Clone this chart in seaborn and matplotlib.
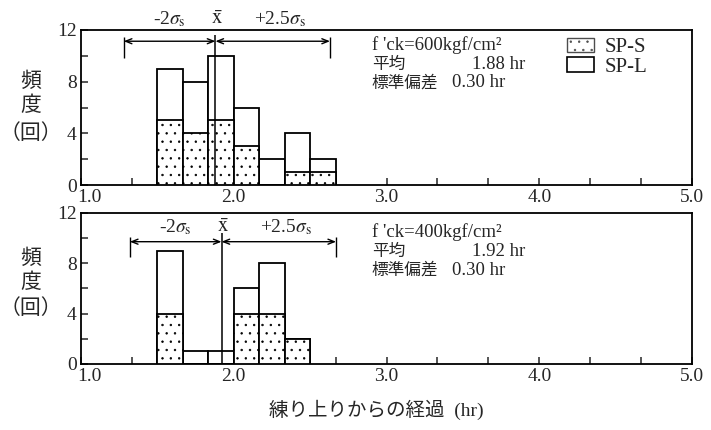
import matplotlib
matplotlib.use("Agg")
import matplotlib.pyplot as plt
import seaborn as sns
import pandas as pd
from matplotlib.patches import Patch
from matplotlib.transforms import ScaledTranslation

# ---------------- data ----------------
bin_width = 1 / 6                                  # 10-minute bins (hr)
top_bin_start = [1.5, 1.6667, 1.8333, 2.0, 2.1667, 2.3333, 2.5]
top_sps = [5, 4, 5, 3, 0, 1, 1]                    # SP-S counts
top_total = [9, 8, 10, 6, 2, 4, 2]                 # SP-S + SP-L
bot_bin_start = [1.5, 1.6667, 1.8333, 2.0, 2.1667, 2.3333]
bot_sps = [4, 0, 0, 4, 4, 2]
bot_total = [9, 1, 1, 6, 8, 2]
fck = [600, 400]
means = [1.88, 1.92]
stds = [0.30, 0.30]
series_names = ["SP-S", "SP-L"]
xtick_vals = [1.0, 1.3333, 1.6667, 2.0, 2.3333, 2.6667, 3.0, 3.3333, 3.6667,
              4.0, 4.3333, 4.6667, 5.0]
xtick_labels = ["1.0", "", "", "2.0", "", "", "3.0", "", "", "4.0", "", "", "5.0"]
ytick_vals = [0, 2, 4, 6, 8, 10, 12]
ytick_labels = ["0", "", "4", "", "8", "", "12"]
ylabel_chars = ["頻", "度", "（回）"]
xlabel = "練り上りからの経過  (hr)"

# ---------------- style ----------------
sns.set_style("ticks")
plt.rcParams["font.family"] = ["Liberation Serif", "Noto Sans CJK JP", "DejaVu Sans"]
plt.rcParams["mathtext.fontset"] = "stix"
plt.rcParams["hatch.linewidth"] = 0.5
CJK = ["Noto Sans CJK JP", "DejaVu Sans"]
MIX = ["Liberation Serif", "Noto Sans CJK JP"]

fig = plt.figure(figsize=(7.11, 4.30), dpi=100)
ax_top = fig.add_axes([81 / 711, 1 - 185 / 430, 611 / 711, 155 / 430])
ax_bot = fig.add_axes([81 / 711, 1 - 364 / 430, 611 / 711, 151.3 / 430])

panels = [
    (ax_top, top_bin_start, top_sps, top_total),
    (ax_bot, bot_bin_start, bot_sps, bot_total),
]

# per-panel annotation geometry (data-y units)
arrow_y = [11.13, 9.7]
mean_top = [11.6, 10.4]
cap_half = [(0.3, 1.3), (0.4, 1.2)]
label_y = [12.85, 10.85]
text_y = [(10.8, 9.35, 7.9), (10.45, 8.95, 7.45)]

for i, (ax, starts, sps, total) in enumerate(panels):
    df = pd.DataFrame({
        "center": [s + bin_width / 2 for s in starts],
        "total": total,
        "sps": sps,
    })
    sns.barplot(data=df, x="center", y="total", native_scale=True, width=1,
                color="white", edgecolor="black", linewidth=1.3,
                saturation=1, ax=ax, zorder=2)
    sns.barplot(data=df, x="center", y="sps", native_scale=True, width=1,
                color="white", edgecolor="black", linewidth=1.3, hatch="..",
                saturation=1, ax=ax, zorder=3)

    m, s = means[i], stds[i]
    lo, hi = m - 2 * s, m + 2.5 * s
    ay = arrow_y[i]
    ax.vlines(m, 0, mean_top[i], color="black", lw=1.1, zorder=4)
    for a, b in [(lo, m), (m, hi)]:
        ax.annotate("", xy=(a, ay), xytext=(b, ay),
                    arrowprops=dict(arrowstyle="<->,head_length=0.45,head_width=0.18",
                                    color="black", lw=1.0, shrinkA=0, shrinkB=0))
    ax.vlines([lo, hi], ay - cap_half[i][1], ay + cap_half[i][0],
              color="black", lw=1.0, zorder=4)
    ax.text((lo + m) / 2, label_y[i], r"-2$\sigma_\mathrm{s}$", ha="center",
            va="center", fontsize=14, clip_on=False)
    ax.text(m + 0.01, label_y[i], r"$\bar{\mathrm{x}}$", ha="center",
            va="center", fontsize=15, clip_on=False)
    ax.text(m + 0.42, label_y[i], r"+2.5$\sigma_\mathrm{s}$", ha="center",
            va="center", fontsize=14, clip_on=False)

    ty = text_y[i]
    ax.text(2.903, ty[0], f"f 'ck={fck[i]}kgf/cm²", fontsize=13.5,
            va="center", ha="left", family=MIX)
    ax.text(2.903, ty[1], "平均", fontsize=12, va="center", ha="left", family=CJK)
    ax.text(3.562, ty[1], f"{m:.2f} hr", fontsize=13.5, va="center", ha="left")
    ax.text(2.903, ty[2], "標準偏差", fontsize=12, va="center", ha="left", family=CJK)
    ax.text(3.43, ty[2], f"{s:.2f} hr", fontsize=13.5, va="center", ha="left")

    ax.set_xlim(1.0, 5.0)
    ax.set_ylim(0, 12)
    ax.set_xticks(xtick_vals)
    ax.set_xticklabels(xtick_labels)
    ax.set_yticks(ytick_vals)
    ax.set_yticklabels(ytick_labels)
    ax.tick_params(direction="in", length=5, width=1.1, labelsize=14, pad=3)
    first = ax.get_xticklabels()[0]
    first.set_transform(first.get_transform()
                        + ScaledTranslation(8 / 100, 0, fig.dpi_scale_trans))
    ax.set_xlabel("")
    ax.set_ylabel("")
    for sp in ax.spines.values():
        sp.set_visible(True)
        sp.set_linewidth(1.3)
        sp.set_color("black")

# legend (top panel)
handles = [Patch(facecolor="white", edgecolor="0.3", hatch="..", lw=1.0),
           Patch(facecolor="white", edgecolor="black", lw=1.2)]
leg = ax_top.legend(handles, series_names, loc="upper left",
                    bbox_to_anchor=(0.795, 0.95), frameon=False, fontsize=15,
                    handlelength=1.3, handleheight=0.7, handletextpad=0.5,
                    labelspacing=0.0, borderpad=0, borderaxespad=0)

# y labels (vertical stacked characters)
for base_ys in ([81, 105, 133], [258, 282, 308]):
    for ch, py in zip(ylabel_chars, base_ys):
        fig.text(31 / 711, 1 - py / 430, ch, ha="center", va="center",
                 fontsize=15, family=CJK)

fig.text(376 / 711, 1 - 410 / 430, xlabel, ha="center", va="center",
         fontsize=14, family=MIX)

fig.savefig("out.png", dpi=100)
